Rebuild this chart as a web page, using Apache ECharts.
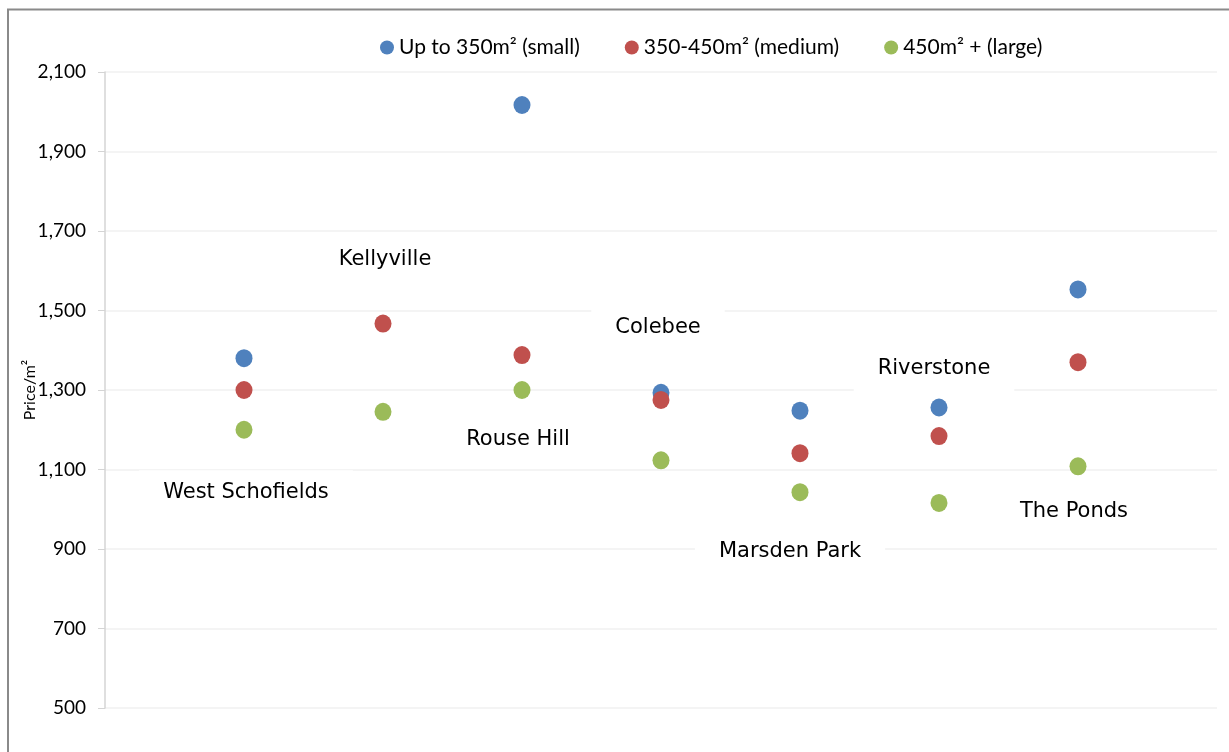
<!DOCTYPE html>
<html>
<head>
<meta charset="utf-8">
<script src="https://cdn.jsdelivr.net/npm/echarts@6/dist/echarts.min.js"></script>
<style>
  html, body { margin: 0; padding: 0; background: #fff; }
  #chart { width: 1229px; height: 752px; }
</style>
</head>
<body>
<div id="chart"></div>
<script>
// Land price per square metre by suburb and lot size
const suburbs = ['West Schofields', 'Kellyville', 'Rouse Hill', 'Colebee', 'Marsden Park', 'Riverstone', 'The Ponds'];
const seriesNames = ['Up to 350m\u00b2 (small)', '350-450m\u00b2 (medium)', '450m\u00b2 + (large)'];
const smallLots  = [1380, null, 2017, 1293, 1248, 1256, 1553];
const mediumLots = [1300, 1467, 1388, 1275, 1141, 1184, 1370];
const largeLots  = [1200, 1245, 1300, 1123, 1043, 1016, 1108];
const yTicks = [500, 700, 900, 1100, 1300, 1500, 1700, 1900, 2100];

// Suburb name placement: pixel offset from the large-lot point of each suburb
const nameOffsets = [[2, 63], [2, -152], [-4, 50], [-3, -133], [-10, 59], [-5, -134], [-4, 45]];

const colors = ['#4F81BD', '#C0504D', '#9BBB59'];

function toPoints(values) {
  return values.map((v, i) => v == null ? null : [i + 1, v]).filter(p => p);
}

const chart = echarts.init(document.getElementById('chart'), null, { renderer: 'canvas' });

const pointSeries = [smallLots, mediumLots, largeLots].map((vals, k) => ({
  name: seriesNames[k],
  type: 'scatter',
  data: toPoints(vals),
  symbol: 'circle',
  symbolSize: [17, 18],
  itemStyle: { color: colors[k], opacity: 1 },
  z: 5
}));

const nameSeries = {
  name: 'suburbNames',
  type: 'scatter',
  data: largeLots.map((v, i) => ({
    value: [i + 1, v],
    label: { offset: nameOffsets[i] }
  })),
  symbolSize: 1,
  itemStyle: { color: 'rgba(0,0,0,0)', opacity: 1 },
  silent: true,
  z: 3,
  label: {
    show: true,
    position: 'inside',
    formatter: p => suburbs[p.dataIndex],
    fontFamily: 'DejaVu Sans',
    fontSize: 21,
    color: '#000',
    opacity: 1,
    textBorderWidth: 0,
    backgroundColor: '#fff',
    padding: [12, 24]
  },
  emphasis: { disabled: true }
};

chart.setOption({
  animation: false,
  backgroundColor: '#fff',
  color: colors,
  graphic: [{
    type: 'rect',
    shape: { x: 8, y: 9.5, width: 1240, height: 770 },
    style: { fill: 'none', stroke: '#8a8a8a', lineWidth: 2 },
    silent: true,
    z: 100
  }],
  legend: {
    data: seriesNames.map(n => ({ name: n, icon: 'circle' })),
    left: 375,
    top: 32,
    itemWidth: 14,
    itemHeight: 14,
    itemGap: 45,
    textStyle: { fontFamily: 'Lato', fontSize: 21, color: '#000' }
  },
  grid: { left: 105, right: 12, top: 72, bottom: 44, containLabel: false },
  xAxis: {
    type: 'value',
    min: 0,
    max: 8,
    show: false,
    splitLine: { show: false }
  },
  yAxis: {
    type: 'value',
    min: yTicks[0],
    max: yTicks[yTicks.length - 1],
    interval: 200,
    name: 'Price/m\u00b2',
    nameLocation: 'middle',
    nameGap: 67,
    nameMoveOverlap: false,
    nameRotate: 90,
    nameTextStyle: { fontFamily: 'Lato', fontSize: 16, color: '#000' },
    axisLine: { show: true, lineStyle: { color: '#d4d4d4', width: 1.5 } },
    axisTick: { show: true, length: 7, lineStyle: { color: '#d4d4d4' } },
    axisLabel: {
      fontFamily: 'Lato',
      fontSize: 19,
      color: '#000',
      margin: 19,
      formatter: v => v.toLocaleString('en-US')
    },
    splitLine: { show: true, lineStyle: { color: '#f1f1f1', width: 1.5 } }
  },
  series: [nameSeries, ...pointSeries]
});
</script>
</body>
</html>
